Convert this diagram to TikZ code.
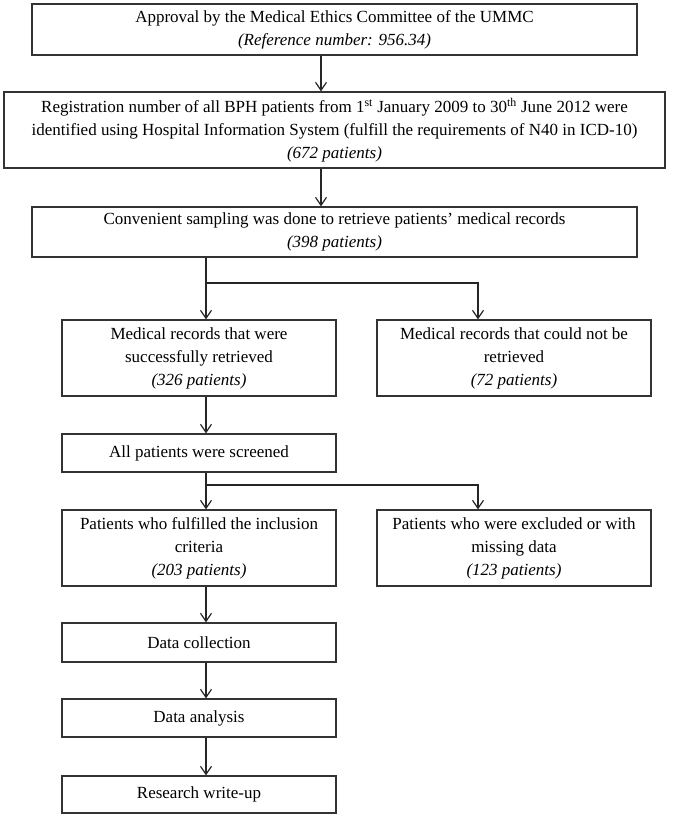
\documentclass[tikz,border=0pt]{standalone}
\usepackage{fontspec}
\setmainfont{Liberation Serif}
\usetikzlibrary{arrows.meta}
\begin{document}
\begin{tikzpicture}[x=1pt,y=-1pt,
  box/.style={draw=black!80, line width=1.3pt, rectangle, inner sep=0pt, align=center,
              font=\fontsize{17}{23}\selectfont},
  wide/.style={minimum width=274pt},
  arr/.style={draw=black!85, line width=1.2pt, -{Straight Barb[length=8pt,width=11pt,line width=1.2pt]}},
  ln/.style={draw=black!85, line width=1.2pt}]
\useasboundingbox (0,0) rectangle (672,819);

\node[box, minimum width=605pt, minimum height=51pt] (top) at (334.5,29.5)
  {Approval by the Medical Ethics Committee of the UMMC\\\textit{(Reference number: 956.34)}};
\node[box, minimum width=661pt, minimum height=76pt] (reg) at (334.5,130)
  {Registration number of all BPH patients from 1\textsuperscript{st} January 2009 to 30\textsuperscript{th} June 2012 were\\identified using Hospital Information System (fulfill the requirements of N40 in ICD-10)\\\textit{(672 patients)}};
\node[box, minimum width=605pt, minimum height=50pt] (conv) at (334.5,232)
  {Convenient sampling was done to retrieve patients' medical records\\\textit{(398 patients)}};
\node[box, wide, minimum height=76pt] (ok) at (199,358)
  {Medical records that were\\successfully retrieved\\\textit{(326 patients)}};
\node[box, wide, minimum height=76pt] (nr) at (514,358)
  {Medical\ records that could not be\\retrieved\\\textit{(72 patients)}};
\node[box, wide, minimum height=38pt] (scr) at (199,453)
  {All patients were screened};
\node[box, wide, minimum height=76pt] (inc) at (199,548)
  {Patients who fulfilled the inclusion\\criteria\\\textit{(203 patients)}};
\node[box, wide, minimum height=76pt] (exc) at (514,548)
  {Patients who were excluded or with\\missing data\\\textit{(123 patients)}};
\node[box, wide, minimum height=39pt] (col) at (199,642.5) {Data collection};
\node[box, wide, minimum height=38pt] (ana) at (199,718) {Data analysis};
\node[box, wide, minimum height=37pt] (wri) at (199,794.5) {Research write-up};

\coordinate (ax) at (321,0);
\coordinate (lx) at (206,0);
\coordinate (rx) at (478,0);
\coordinate (b1) at (206,283);
\coordinate (b2) at (206,485);

\draw[arr] (top.south -| ax) -- (reg.north -| ax);
\draw[arr] (reg.south -| ax) -- (conv.north -| ax);
\draw[arr] (conv.south -| lx) -- (ok.north -| lx);
\draw[arr] (b1) -| (nr.north -| rx);
\draw[arr] (ok.south -| lx) -- (scr.north -| lx);
\draw[arr] (scr.south -| lx) -- (inc.north -| lx);
\draw[arr] (b2) -| (exc.north -| rx);
\draw[arr] (inc.south -| lx) -- (col.north -| lx);
\draw[arr] (col.south -| lx) -- (ana.north -| lx);
\draw[arr] (ana.south -| lx) -- (wri.north -| lx);
\end{tikzpicture}
\end{document}
